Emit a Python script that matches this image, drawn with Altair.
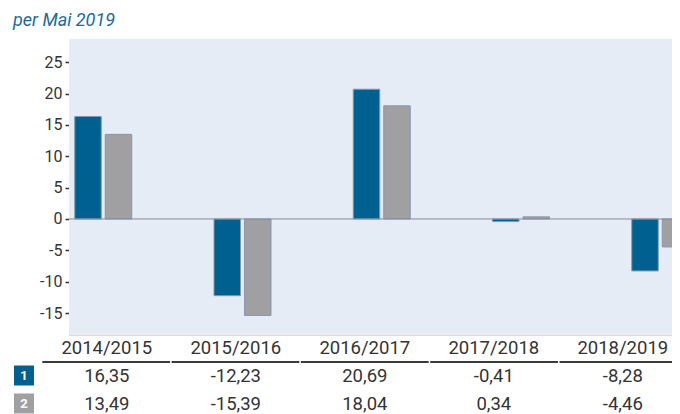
import altair as alt
import pandas as pd

seasons = ["2014/2015", "2015/2016", "2016/2017", "2017/2018", "2018/2019"]
series_ids = ["1", "2"]
series1 = [16.35, -12.23, 20.69, -0.41, -8.28]
series2 = [13.49, -15.39, 18.04, 0.34, -4.46]
y_ticks = [-15, -10, -5, 0, 5, 10, 15, 20, 25]

BLUE = "#00608f"
GRAY = "#a0a0a2"
TXT = "#333333"
FONT = "Roboto"
W, H = 622, 296

rows = []
for s, v1, v2 in zip(seasons, series1, series2):
    for sid, v in (("1", v1), ("2", v2)):
        rows.append({"season": s, "series": sid, "value": v,
                     "label": f"{v:.2f}".replace(".", ",")})
df = pd.DataFrame(rows)
hdr = pd.DataFrame({"season": seasons, "row": ["h"] * len(seasons)})
ids = pd.DataFrame({"series": series_ids})
zero = pd.DataFrame({"z": [0]})

ydom = [-18.5, 28.7]
color = alt.Color("series:N", scale=alt.Scale(domain=series_ids, range=[BLUE, GRAY]), legend=None)

bg = alt.Chart(zero).mark_rect(color="#e5ecf5").encode(
    x=alt.value(0), x2=alt.value(W), y=alt.value(0), y2=alt.value(H))

bars = alt.Chart(df).mark_bar(clip=True, stroke="#8797ae", strokeWidth=1).encode(
    x=alt.X("season:N", sort=seasons,
            scale=alt.Scale(range=[5.75, 619.75], paddingInner=0.5907, paddingOuter=0),
            axis=None),
    xOffset=alt.XOffset("series:N", sort=series_ids,
                        scale=alt.Scale(paddingInner=0.131, paddingOuter=0)),
    y=alt.Y("value:Q", scale=alt.Scale(domain=ydom, nice=False, zero=False),
            axis=alt.Axis(values=y_ticks, title=None, grid=False,
                          labelExpr="datum.value + ''",
                          labelFont=FONT, labelFontSize=16, labelColor=TXT,
                          tickColor=TXT, tickSize=4, tickWidth=1.5,
                          domainColor="#b8c0ca", domainWidth=1, labelPadding=3)),
    color=color,
)

zline = alt.Chart(zero).mark_rule(color="#868d95", strokeWidth=1).encode(
    y=alt.Y("z:Q", scale=alt.Scale(domain=ydom, nice=False, zero=False), axis=None)
)

tx = alt.X("season:N", sort=seasons,
           scale=alt.Scale(domain=seasons, range=[-26.7, 618.3], paddingInner=0.012, paddingOuter=0),
           axis=None)
row_scale = alt.Scale(domain=["h", "1", "2"], range=[308.5, 364.5], padding=0)

head = alt.Chart(hdr).mark_text(font=FONT, fontSize=18.5, color=TXT, baseline="middle").encode(
    x=tx, y=alt.Y("row:N", scale=row_scale, axis=None), text="season:N")

hline = alt.Chart(hdr).mark_rect(color="#3a3a3a").encode(
    x=tx, y=alt.value(322), y2=alt.value(324))

cells = alt.Chart(df).mark_text(font=FONT, fontSize=18.5, color=TXT, baseline="middle").encode(
    x=tx, y=alt.Y("series:N", scale=row_scale, axis=None), text="label:N")

boxes = alt.Chart(ids).mark_point(shape="square", size=400, filled=True, opacity=1, strokeWidth=0).encode(
    x=alt.value(-45), y=alt.Y("series:N", scale=row_scale, axis=None), color=color)

box_txt = alt.Chart(ids).mark_text(font=FONT, fontSize=13, fontWeight="bold", color="white", baseline="middle").encode(
    x=alt.value(-45), y=alt.Y("series:N", scale=row_scale, axis=None), text="series:N")

chart = alt.layer(bg, bars, zline, hline, head, cells, boxes, box_txt).resolve_scale(
    x="independent", y="independent", color="shared"
).properties(
    width=W, height=H,
    autosize=alt.AutoSizeParams(type="none"),
    padding={"left": 61, "top": 31, "right": -19, "bottom": 79},
    title=alt.Title("per Mai 2019", anchor="start", frame="group", font=FONT, fontSize=18,
                    fontStyle="italic", fontWeight="normal", color="#1b6a9c", dx=-56, offset=9),
).configure_view(strokeWidth=0).configure(background="white")

chart.save("out.html", embed_options={"renderer": "svg", "actions": False})
